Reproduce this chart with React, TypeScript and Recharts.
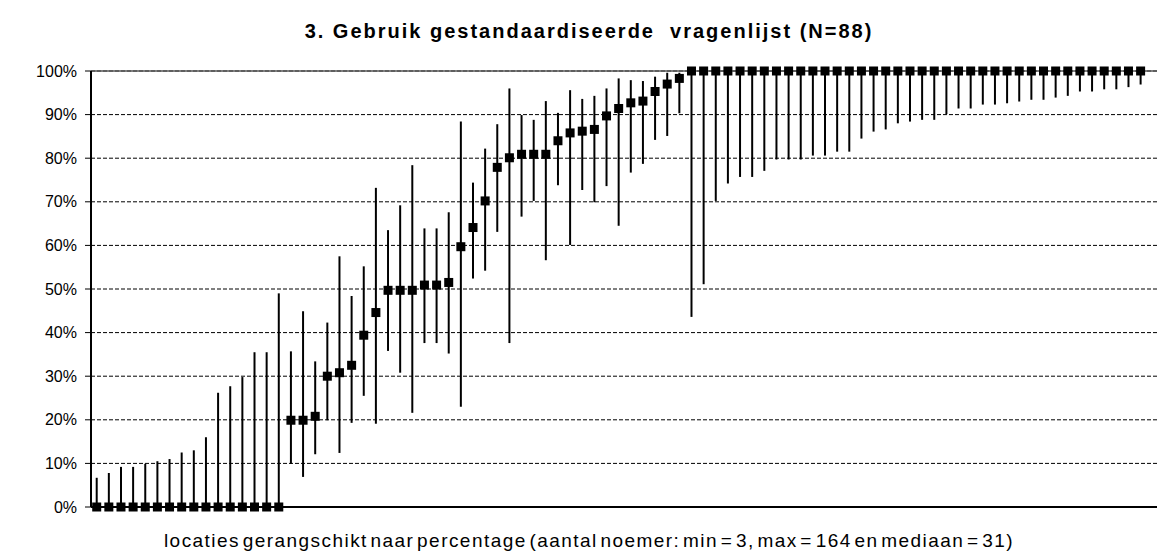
import { ScatterChart, Scatter, XAxis, YAxis, CartesianGrid, ErrorBar, ReferenceLine } from "recharts";

// percentage per location (sorted), with lower and upper bound of the interval
const pct = [
  0, 0, 0, 0, 0, 0, 0, 0, 0, 0, 0, 0, 0, 0, 0, 0,
  19.9, 19.9, 20.8, 30.0, 30.8, 32.5, 39.4, 44.6, 49.7, 49.7, 49.7, 50.9, 50.9, 51.5, 59.7, 64.1, 70.2, 77.9,
  80.1, 80.9, 80.9, 80.9, 84.0, 85.8, 86.2, 86.6, 89.7, 91.4, 92.7, 93.1, 95.3, 97.0, 98.3,
  100, 100, 100, 100, 100, 100, 100, 100, 100, 100, 100, 100, 100, 100, 100, 100, 100, 100, 100,
  100, 100, 100, 100, 100, 100, 100, 100, 100, 100, 100, 100, 100, 100, 100, 100, 100, 100, 100,
];
const lower = [
  0, 0, 0, 0, 0, 0, 0, 0, 0, 0, 0, 0, 0, 0, 0, 0,
  9.9, 6.9, 12.1, 19.9, 12.4, 19.3, 25.5, 19.1, 35.8, 30.8, 21.6, 37.6, 37.6, 35.2, 23.0, 52.4, 54.2, 63.1,
  37.6, 66.6, 70.2, 56.6, 73.8, 60.1, 72.7, 69.9, 73.6, 64.5, 76.7, 78.7, 84.2, 85.1, 90.3,
  43.6, 51.1, 70.2, 74.2, 75.7, 75.7, 77.1, 79.7, 79.7, 79.7, 80.6, 80.6, 81.5, 81.5, 84.5, 86.1, 86.6, 88.0, 88.4,
  88.8, 88.8, 90.1, 91.4, 91.4, 92.3, 92.3, 92.6, 93.0, 93.4, 93.4, 93.9, 94.3, 95.3, 95.3, 95.8, 95.8, 96.3, 96.9, 97.4,
];
const upper = [
  6.7, 7.8, 9.2, 9.2, 9.9, 10.5, 11.0, 12.5, 13.0, 16.0, 26.2, 27.7, 29.8, 35.5, 35.5, 49.0,
  35.7, 44.9, 33.4, 42.3, 57.5, 48.4, 55.2, 73.2, 63.5, 69.2, 78.4, 63.9, 63.9, 67.6, 88.4, 74.4, 82.2, 87.8,
  96.0, 89.9, 88.8, 93.1, 90.4, 95.6, 93.6, 94.3, 96.0, 98.3, 97.9, 97.7, 98.7, 99.6, 99.6,
  100, 100, 100, 100, 100, 100, 100, 100, 100, 100, 100, 100, 100, 100, 100, 100, 100, 100, 100,
  100, 100, 100, 100, 100, 100, 100, 100, 100, 100, 100, 100, 100, 100, 100, 100, 100, 100, 100,
];
const yTicks = [0, 10, 20, 30, 40, 50, 60, 70, 80, 90, 100];

const title = "3. Gebruik gestandaardiseerde  vragenlijst (N=88)";
const xLabel = "locaties gerangschikt naar percentage (aantal noemer: min = 3, max = 164 en mediaan = 31)";

const data = pct.map((p, i) => ({
  x: i + 1,
  y: p,
  err: [p - lower[i], upper[i] - p],
}));

const Square = (props: any) => {
  const { cx, cy } = props;
  if (cx == null || cy == null) return null;
  return <rect x={cx - 4.5} y={cy - 4.5} width={9} height={9} fill="#000" />;
};

export default function App() {
  const font = "'Liberation Sans', Arial, sans-serif";
  return (
    <div style={{ position: "relative", width: 1157, height: 556, fontFamily: font, overflow: "hidden" }}>
      <style>{`html, body { margin: 0; padding: 0; overflow: hidden; }`}</style>
      <div
        style={{
          position: "absolute", left: 0, width: 1178, top: 20, textAlign: "center",
          fontWeight: "bold", fontSize: 20, letterSpacing: 2, whiteSpace: "pre", color: "#000",
        }}
      >
        {title}
      </div>
      <ScatterChart width={1157} height={556} margin={{ top: 71, right: 0, bottom: 19, left: 0 }}>
        <CartesianGrid vertical={false} stroke="#000" strokeDasharray="4 2" />
        <XAxis
          type="number"
          dataKey="x"
          domain={[0.53, 88.35]}
          allowDataOverflow
          tick={false}
          tickLine={false}
          height={30}
          axisLine={{ stroke: "#000", strokeWidth: 2 }}
        />
        <YAxis
          type="number"
          dataKey="y"
          domain={[0, 100]}
          ticks={yTicks}
          interval={0}
          width={91}
          tickFormatter={(v: number) => `${v}%`}
          tick={{ fill: "#000", fontSize: 16, fontFamily: font }}
          tickSize={6}
          tickMargin={8}
          tickLine={{ stroke: "#000" }}
          axisLine={{ stroke: "#000", strokeWidth: 2 }}
        />
        <ReferenceLine y={100} stroke="#555" strokeWidth={1.5} />
        <Scatter data={data} shape={<Square />} isAnimationActive={false}>
          <ErrorBar dataKey="err" direction="y" width={0} stroke="#000" strokeWidth={2} />
        </Scatter>
      </ScatterChart>
      <div
        style={{
          position: "absolute", left: 0, width: 1178, top: 530, textAlign: "center",
          fontSize: 19, letterSpacing: 1.45, wordSpacing: -4, whiteSpace: "pre", color: "#000",
        }}
      >
        {xLabel}
      </div>
    </div>
  );
}
